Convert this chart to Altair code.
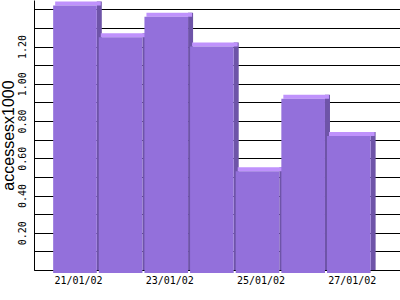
import json
import altair as alt
import pandas as pd

days = ["21/01/02", "22/01/02", "23/01/02", "24/01/02", "25/01/02", "26/01/02", "27/01/02"]
accesses = [1.42, 1.25, 1.36, 1.20, 0.53, 0.92, 0.72]
y_ticks = [0.0, 0.1, 0.2, 0.3, 0.4, 0.5, 0.6, 0.7, 0.8, 0.9, 1.0, 1.1, 1.2, 1.3, 1.4]
x_label_pos = [0.5, 2.5, 4.5, 6.5]

df = pd.DataFrame({"day": days, "idx": list(range(len(days))), "value": accesses})
df["idx2"] = df["idx"] + 1

FRONT = "#9370DB"
TOP = "#BF92FC"
SIDE = "#6E54A8"

xs = alt.Scale(domain=[-0.42, 7.6], nice=False, zero=False)
ys = alt.Scale(domain=[0, 1.45], nice=False)

x_axis = alt.Axis(
    values=x_label_pos,
    labelExpr=json.dumps(days) + "[floor(datum.value)]",
    grid=False, ticks=False, domain=True, domainColor="black",
    labelFont="DejaVu Sans Mono", labelFontSize=10, labelColor="black",
    labelPadding=5, labelOffset=2, labelOverlap=False, title=None,
)
y_axis = alt.Axis(
    values=y_ticks,
    labelExpr="(round(datum.value*10)%2==0 && datum.value>0.05 && datum.value<1.3) ? format(datum.value,'.2f') : ''",
    grid=True, gridColor="black", gridOpacity=1, gridWidth=1,
    ticks=False, domain=True, domainColor="black",
    labelFont="DejaVu Sans Mono", labelFontSize=10, labelColor="black",
    labelAngle=270, labelAlign="center", labelBaseline="bottom", labelPadding=7,
    labelOverlap=False, labelFlush=False,
    title="accessesx1000", titleFont="Liberation Sans", titleFontSize=16,
    titleFontWeight="normal", titleColor="black", titleAngle=270,
    titleAlign="center", titleBaseline="middle", titleX=-26, titleY=135,
)

base = alt.Chart(df)

side = base.mark_rect(color=SIDE, xOffset=-2, x2Offset=3, yOffset=-4).encode(
    x=alt.X("idx2:Q", scale=xs, axis=x_axis),
    x2="idx2:Q",
    y=alt.Y("value:Q", scale=ys, axis=y_axis),
    y2=alt.datum(0),
)
top = base.mark_rect(color=TOP, xOffset=2, x2Offset=2, yOffset=-4).encode(
    x=alt.X("idx:Q", scale=xs, axis=x_axis),
    x2="idx2:Q",
    y=alt.Y("value:Q", scale=ys, axis=y_axis),
    y2="value:Q",
)
front = base.mark_rect(color=FRONT, x2Offset=-2, y2Offset=3).encode(
    x=alt.X("idx:Q", scale=xs, axis=x_axis),
    x2="idx2:Q",
    y=alt.Y("value:Q", scale=ys, axis=y_axis),
    y2=alt.datum(0),
)

chart = (
    alt.layer(side, top, front)
    .properties(
        width=366, height=270,
        autosize=alt.AutoSizeParams(type="none"),
        padding={"left": 34, "top": 0, "right": 0, "bottom": 30},
        background="white",
    )
    .configure_view(stroke=None)
)

chart.save("out.html", embed_options={"renderer": "svg", "actions": False})
